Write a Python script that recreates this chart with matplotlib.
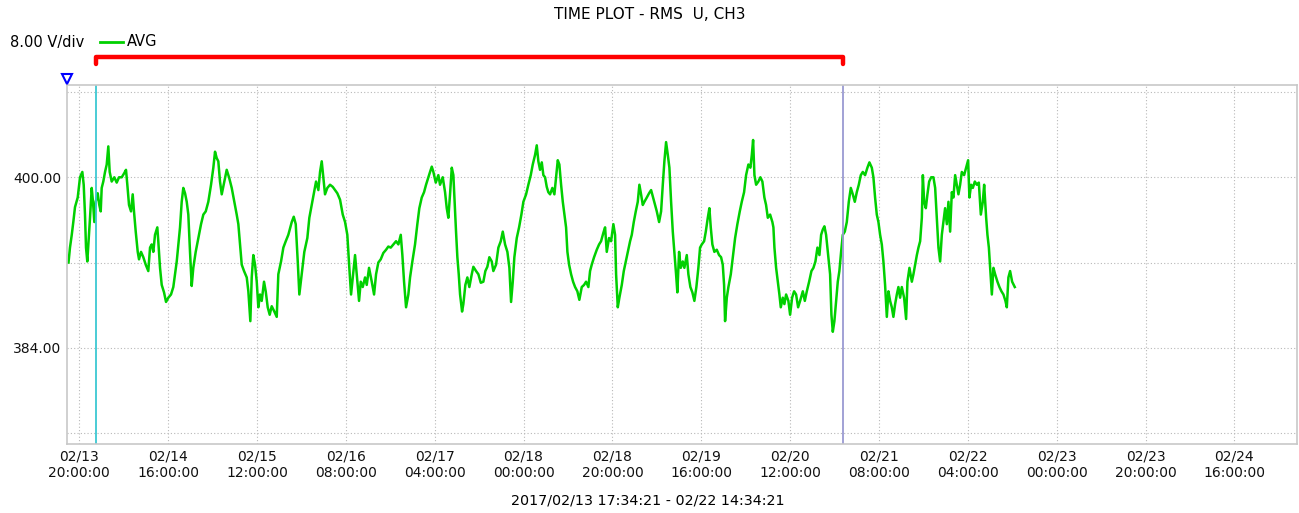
import datetime as dt
import matplotlib
matplotlib.use("Agg")
import matplotlib.pyplot as plt
import matplotlib.dates as mdates
from matplotlib.lines import Line2D
from matplotlib.transforms import blended_transform_factory

# hours after 2017/02/13 20:00:00 and RMS voltage (V)
hours = [-2.43, -2.1, -1.7, -1.35, -0.97, -0.36, 0.16, 0.68, 0.99, 1.28, 1.51, 1.80, 2.18, 2.41, 2.79,
         3.08, 3.38, 3.69, 4.14, 4.50, 4.82, 5.04, 5.40, 5.79, 6.17, 6.53, 6.84, 7.29, 7.88, 8.42,
         8.94, 9.55, 10.13, 10.51, 10.81, 11.19, 11.64, 12.02, 12.31, 12.70, 13.15, 13.44, 13.89, 14.41,
         14.95, 15.53, 15.92, 16.30, 16.66, 17.04, 17.56, 17.78, 18.17, 18.55, 19.07, 19.52, 20.04,
         20.64, 21.16, 21.54, 21.93, 22.29, 22.67, 23.05, 23.41, 23.80, 24.18, 24.54, 24.92, 25.30,
         25.66, 26.20, 26.79, 27.40, 27.92, 28.46, 29.04, 29.65, 30.17, 30.55, 30.93, 31.29, 31.67,
         32.06, 32.64, 33.18, 33.70, 34.31, 34.89, 35.43, 35.80, 36.18, 36.56, 37.08, 37.69, 38.05,
         38.50, 38.81, 39.17, 39.56, 39.94, 40.30, 40.68, 41.06, 41.58, 41.96, 42.41, 42.86, 43.31,
         43.90, 44.44, 44.80, 45.41, 45.93, 46.47, 47.05, 47.82, 48.27, 48.72, 49.17, 49.53, 50.07,
         50.65, 51.33, 51.78, 52.32, 52.84, 53.29, 53.81, 54.19, 54.57, 54.93, 55.31, 55.83, 56.44,
         57.05, 57.56, 58.08, 58.69, 59.30, 59.82, 60.33, 60.78, 61.17, 61.55, 62.07, 62.45, 62.97,
         63.35, 63.80, 64.32, 64.70, 65.22, 65.83, 66.35, 66.80, 67.31, 67.85, 68.44, 69.05, 69.56,
         70.10, 70.69, 71.30, 71.82, 72.36, 72.72, 73.10, 73.55, 74.07, 74.45, 74.97, 75.57, 76.09,
         76.54, 77.08, 77.60, 78.05, 78.57, 78.95, 79.34, 79.70, 80.24, 80.82, 81.20, 81.81, 82.33,
         82.71, 83.07, 83.45, 83.84, 84.20, 84.51, 84.80, 85.10, 85.41, 85.71, 86.16, 86.45, 86.90,
         87.35, 87.80, 88.34, 88.70, 89.31, 89.83, 90.37, 90.95, 91.40, 91.85, 92.30, 92.84, 93.20,
         93.81, 94.33, 94.87, 95.32, 95.84, 96.36, 96.81, 97.19, 97.57, 97.93, 98.47, 98.99, 99.51,
         99.96, 100.57, 101.08, 101.62, 102.07, 102.59, 102.97, 103.33, 103.71, 104.10, 104.46,
         104.84, 105.22, 105.58, 105.97, 106.48, 106.94, 107.32, 107.70, 108.06, 108.45, 108.83,
         109.19, 109.57, 109.87, 110.25, 110.70, 111.15, 111.60, 112.11, 112.56, 113.10, 113.62,
         114.07, 114.59, 114.97, 115.35, 115.87, 116.48, 117.00, 117.45, 117.97, 118.35, 118.73,
         119.24, 119.70, 120.22, 120.60, 120.83, 121.21, 121.57, 122.11, 122.56, 123.01, 123.46,
         123.98, 124.36, 124.81, 125.26, 125.71, 126.07, 126.45, 126.84, 127.20, 127.74, 128.25,
         128.71, 129.16, 129.61, 129.99, 130.51, 130.96, 131.34, 131.70, 132.08, 132.47, 132.83,
         133.21, 133.59, 133.95, 134.33, 134.62, 135.01, 135.39, 135.84, 136.20, 136.74, 137.10,
         137.55, 138.00, 138.45, 138.90, 139.35, 139.73, 140.12, 140.64, 141.02, 141.47, 141.83,
         142.14, 142.50, 142.95, 143.49, 144.01, 144.46, 144.84, 145.14, 145.36, 145.75, 146.11,
         146.65, 147.10, 147.62, 148.13, 148.67, 149.12, 149.64, 150.09, 150.61, 151.06, 151.38,
         151.67, 151.97, 152.35, 152.86, 153.31, 153.76, 154.21, 154.59, 154.98, 155.50, 156.01,
         156.24, 156.47, 156.85, 157.23, 157.59, 157.90, 158.35, 158.71, 159.10, 159.61, 160.00,
         160.45, 160.90, 161.35, 161.80, 162.25, 162.86, 163.31, 163.76, 164.28, 164.80, 165.25,
         165.70, 166.15, 166.60, 166.98, 167.36, 167.72, 168.10, 168.40, 168.71, 169.00, 169.30,
         169.61, 169.97, 170.35, 170.73, 171.09, 171.48, 171.86, 172.31, 172.76, 173.21, 173.66,
         174.11, 174.56, 175.01, 175.46, 175.91, 176.36, 176.88, 177.40, 177.85, 178.39, 178.75,
         179.13, 179.51, 179.88, 180.26, 180.64, 181.00, 181.38, 181.77, 182.13, 182.51, 182.89,
         183.25, 183.64, 184.02, 184.38, 184.76, 185.14, 185.66, 186.11, 186.41, 186.86, 187.40,
         187.76, 188.14, 188.53, 188.89, 189.27, 189.65, 189.88, 190.17, 190.55, 190.91, 191.30,
         191.75, 192.26, 192.65, 193.03, 193.39, 193.77, 194.15, 194.51, 194.89, 195.28, 195.64,
         196.02, 196.40, 196.76, 197.15, 197.53, 197.89, 198.27, 198.65, 199.17, 199.62, 200.07,
         200.36, 200.75, 201.13, 201.58, 202.03, 202.48, 202.93, 203.38, 203.68, 204.13, 204.42,
         204.74, 205.03, 205.41, 205.77, 206.15, 206.67, 207.12, 207.57, 208.02, 208.47, 208.78,
         209.14, 209.52, 209.98, 210.57]

volts = [392.0, 393.4, 394.6, 395.8, 397.2, 398.1, 400.0, 400.5, 399.3, 396.5, 393.4, 392.1, 394.6, 396.2, 399.0,
         397.7, 395.8, 397.7, 398.5, 397.4, 396.8, 399.0, 399.6, 400.5, 401.2, 402.9, 400.5, 399.6, 400.0, 399.5,
         400.0, 400.0, 400.4, 400.7, 399.3, 397.4, 396.8, 398.4, 396.8, 394.9, 393.0, 392.3, 393.0, 392.5,
         391.8, 391.2, 393.4, 393.7, 393.0, 394.6, 395.3, 394.0, 391.5, 389.9, 389.2, 388.3, 388.7,
         389.0, 389.7, 390.9, 392.1, 393.7, 395.3, 397.7, 399.0, 398.5, 397.7, 396.5, 393.0, 389.8,
         391.5, 393.0, 394.3, 395.6, 396.5, 396.8, 397.7, 399.3, 400.9, 402.4, 401.8, 401.5, 399.6,
         398.4, 399.6, 400.7, 400.0, 399.0, 397.7, 396.5, 395.6, 393.7, 391.8, 391.2, 390.6, 389.3,
         386.5, 390.6, 392.7, 391.8, 390.2, 387.8, 389.0, 388.4, 390.2, 389.3, 387.8, 387.1, 387.9,
         387.4, 386.9, 390.9, 392.1, 393.4, 394.0, 394.6, 395.8, 396.3, 395.6, 392.1, 389.0, 390.9,
         393.0, 394.3, 396.2, 397.4, 398.6, 399.6, 398.8, 400.5, 401.5, 400.0, 398.4, 399.0, 399.3,
         399.1, 398.8, 398.5, 397.9, 396.5, 395.8, 394.6, 391.5, 389.0, 390.6, 392.7, 390.9, 388.4,
         390.2, 389.7, 390.6, 389.9, 391.5, 390.2, 389.0, 390.9, 392.0, 392.3, 392.9, 393.2, 393.5,
         393.4, 393.7, 394.0, 393.7, 394.6, 392.7, 390.2, 387.8, 389.0, 390.6, 392.1, 393.7, 395.6,
         397.1, 398.1, 398.6, 399.3, 400.0, 400.5, 401.0, 400.5, 399.5, 400.2, 399.3, 400.0, 398.6,
         397.1, 396.2, 398.4, 400.9, 400.2, 397.4, 394.9, 392.5, 390.9, 389.0, 387.4, 388.1, 389.9,
         390.6, 389.7, 390.9, 391.6, 391.2, 390.9, 390.1, 390.2, 391.2, 391.6, 392.5, 392.1, 391.2,
         391.8, 393.4, 394.0, 394.9, 393.7, 393.0, 391.5, 388.3, 390.2, 392.5, 394.3, 395.3, 396.5,
         397.7, 398.4, 399.3, 400.2, 401.2, 402.1, 403.0, 401.5, 400.7, 401.4, 400.2,
         400.0, 399.1, 398.6, 398.4, 399.0, 398.4, 400.0, 401.6, 401.2, 399.3, 397.7,
         396.5, 395.3, 393.0, 391.8, 390.9, 390.2, 389.7, 389.3, 388.5, 389.7, 389.9,
         390.2, 389.7, 391.2, 391.8, 392.5, 393.2, 393.7, 394.0, 394.8, 395.3, 393.0,
         394.3, 394.0, 395.6, 394.6, 390.9, 387.8, 388.7, 389.9, 391.2, 392.1, 393.0,
         394.0, 394.6, 395.8, 396.8, 397.7, 399.3, 398.4, 397.4, 397.7, 398.1, 398.5,
         398.8, 398.1, 397.4, 396.8, 395.8, 396.8, 399.3, 401.5, 403.3, 402.1, 400.9,
         397.7, 394.9, 393.0, 390.9, 389.2, 393.0, 391.5, 392.1, 391.5, 392.7, 390.9,
         389.7, 389.2, 388.4, 389.7, 391.5, 393.4, 393.7, 394.0, 394.9, 396.2, 397.1,
         395.3, 393.7, 393.0, 393.2, 392.7, 392.5, 391.8, 389.9, 386.5, 388.7, 389.7,
         390.9, 392.5, 394.3, 395.6, 396.8, 397.7, 398.6, 400.2, 401.2, 400.9, 402.1,
         403.5, 400.2, 399.3, 399.6, 400.0, 399.6, 398.1, 397.4, 396.2, 396.5, 395.8,
         395.3, 393.4, 391.5, 390.2, 389.0, 387.8, 388.7, 388.1, 389.0, 388.4, 387.1,
         388.7, 389.3, 389.0, 387.8, 388.4, 389.3, 388.4, 389.3, 390.2, 391.2, 391.5,
         392.1, 393.4, 392.7, 394.6, 395.1, 395.4, 394.6, 393.4, 392.1, 390.9, 387.1,
         385.5, 386.5, 388.4, 390.2, 391.2, 393.0, 394.6, 394.9, 395.8, 397.7, 399.0,
         398.4, 397.7, 398.6, 399.3, 400.2, 400.5, 400.2, 400.9, 401.4, 400.9, 400.0,
         398.1, 396.5, 395.8, 394.6, 393.7, 392.1, 389.9, 386.9, 389.3, 388.4, 387.8,
         386.9, 388.1, 389.0, 389.7, 388.7, 389.7, 388.7, 386.7, 390.2, 391.5, 390.2,
         390.9, 391.8, 392.7, 393.4, 394.0, 396.2, 400.2, 397.7, 397.1, 398.4, 399.6,
         400.0, 400.0, 399.0, 396.2, 393.4, 392.1, 394.6, 395.8, 397.1, 395.6, 397.7,
         394.9, 398.6, 398.1, 400.2, 399.3, 398.4, 399.3, 400.5, 400.2, 400.9, 401.6,
         398.1, 399.3, 399.0, 399.6, 399.3, 399.5, 396.5, 397.7, 399.3, 396.2, 394.6,
         393.4, 391.5, 389.0, 391.5, 390.9, 390.2, 389.7, 389.3, 389.0, 388.4, 387.8,
         390.6, 391.2, 390.2, 389.7]

origin = dt.datetime(2017, 2, 13, 20, 0, 0)
cursor_hours = [3.8, 171.86]
tick_hours = list(range(0, 261, 20))
y_ticks = [376, 384, 392, 400, 408]
y_labels = ["", "384.00", "", "400.00", ""]

plt.rcParams['font.family'] = ['DejaVu Sans']

fig = plt.figure(figsize=(12.99, 5.13), dpi=100)
ax = fig.add_axes([67 / 1299, 69 / 513, 1230 / 1299, 359 / 513])

times = [origin + dt.timedelta(hours=h) for h in hours]
ax.plot(times, volts, color='#00d000', lw=1.8)

ax.axvline(origin + dt.timedelta(hours=cursor_hours[0]), color='#3cc8d2', lw=1.3)
ax.axvline(origin + dt.timedelta(hours=cursor_hours[1]), color='#9a9ad2', lw=1.3)

ax.set_xlim(origin + dt.timedelta(hours=-2.77), origin + dt.timedelta(hours=274.1))
ax.set_ylim(374.97, 408.66)

ax.set_xticks([origin + dt.timedelta(hours=h) for h in tick_hours])
ax.xaxis.set_major_formatter(mdates.DateFormatter('%m/%d\n%H:%M:%S'))
ax.set_yticks(y_ticks)
ax.set_yticklabels(y_labels)
ax.tick_params(length=0, labelsize=10, colors='#111111', pad=4)
ax.grid(True, color='#b8b8b8', lw=0.8, linestyle=(0, (1, 2)))
for s in ax.spines.values():
    s.set_color('#c8c8c8')
    s.set_linewidth(1.2)

# header texts
fig.text(0.5, 1 - 15 / 513, 'TIME PLOT - RMS  U, CH3', ha='center', va='center', fontsize=11)
fig.text(10 / 1299, 1 - 42 / 513, '8.00 V/div', ha='left', va='center', fontsize=10.5)
fig.add_artist(Line2D([100 / 1299, 123 / 1299], [1 - 42 / 513, 1 - 42 / 513],
                      transform=fig.transFigure, color='#00d000', lw=2))
fig.text(127 / 1299, 1 - 42 / 513, 'AVG', ha='left', va='center', fontsize=10.5)
fig.text(648 / 1299, 1 - 500 / 513, '2017/02/13 17:34:21 - 02/22 14:34:21',
         ha='center', va='center', fontsize=10.3)

# red bracket between cursors
tr = blended_transform_factory(ax.transData, fig.transFigure)
c0 = mdates.date2num(origin + dt.timedelta(hours=cursor_hours[0]))
c1 = mdates.date2num(origin + dt.timedelta(hours=cursor_hours[1]))
y_top = 1 - 57 / 513
y_low = 1 - 64 / 513
fig.add_artist(Line2D([c0, c0, c1, c1], [y_low, y_top, y_top, y_low], transform=tr,
                      color='#ff0000', lw=3.2, solid_joinstyle='round', solid_capstyle='round'))

# blue start marker
tr2 = blended_transform_factory(ax.transAxes, fig.transFigure)
fig.add_artist(Line2D([0], [1 - 79 / 513], transform=tr2, marker='v', markersize=7,
                      markerfacecolor='white', markeredgecolor='#0000ff', markeredgewidth=1.5,
                      linestyle='none'))

fig.savefig('out.png', dpi=100)
